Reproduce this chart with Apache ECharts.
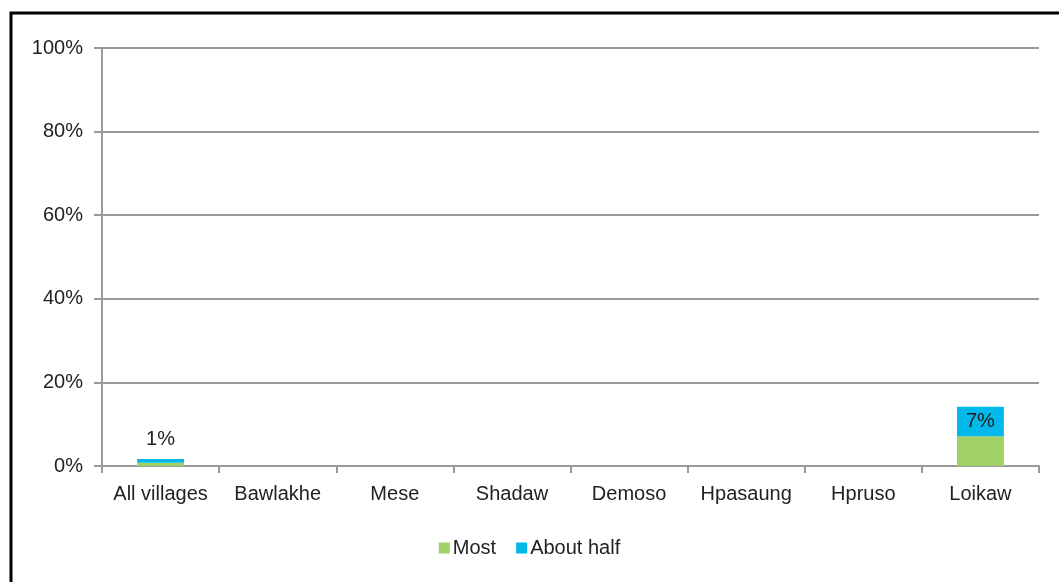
<!DOCTYPE html>
<html>
<head>
<meta charset="utf-8">
<script src="https://cdn.jsdelivr.net/npm/echarts@6/dist/echarts.min.js"></script>
<style>
  html, body { margin: 0; padding: 0; background: #fff; }
  #main { width: 1059px; height: 582px; }
</style>
</head>
<body>
<div id="main"></div>
<script>
var categories = ['All villages', 'Bawlakhe', 'Mese', 'Shadaw', 'Demoso', 'Hpasaung', 'Hpruso', 'Loikaw'];
var mostValues = [0.8, 0, 0, 0, 0, 0, 0, 7.1];
var halfValues = [0.9, 0, 0, 0, 0, 0, 0, 7.1];
var yTicks = [0, 20, 40, 60, 80, 100];

var fontFam = 'Liberation Sans, Arial, sans-serif';
var fs = 20;

// label only on the "About half" part, as in the original
var halfData = halfValues.map(function(v, i) {
    if (i === 0) {
        return { value: v, label: { show: true, position: 'top', distance: 9, formatter: '1%' } };
    }
    if (i === 7) {
        return { value: v, label: { show: true, position: 'inside', formatter: '7%' } };
    }
    return v;
});

var option = {
    animation: false,
    textStyle: { fontFamily: fontFam },
    graphic: [{
        type: 'rect',
        shape: { x: 11, y: 13, width: 1200, height: 700 },
        style: { fill: 'none', stroke: '#000', lineWidth: 3 }
    }],
    legend: {
        bottom: 19,
        left: 'center',
        itemWidth: 11,
        itemHeight: 11,
        itemGap: 20,
        icon: 'rect',
        textStyle: { fontSize: fs, color: '#222', fontFamily: fontFam, padding: [0, 0, 0, -2] },
        data: ['Most', 'About half']
    },
    grid: { left: 102, right: 20, top: 48, bottom: 116 },
    xAxis: {
        type: 'category',
        data: categories,
        axisLine: { lineStyle: { color: '#9a9a9a', width: 2 } },
        axisTick: { show: true, interval: 0, length: 7, alignWithLabel: false, lineStyle: { color: '#9a9a9a', width: 2 } },
        axisLabel: { interval: 0, fontSize: fs, color: '#222', margin: 18, fontFamily: fontFam }
    },
    yAxis: {
        type: 'value',
        min: 0,
        max: 100,
        interval: 20,
        axisLine: { show: true, lineStyle: { color: '#9a9a9a', width: 2 } },
        axisTick: { show: true, length: 8, lineStyle: { color: '#9a9a9a', width: 2 } },
        splitLine: { lineStyle: { color: '#9a9a9a', width: 2 } },
        axisLabel: {
            fontSize: fs, color: '#222', margin: 19, fontFamily: fontFam,
            formatter: function(v) { return yTicks.indexOf(v) >= 0 ? v + '%' : ''; }
        }
    },
    series: [
        {
            name: 'Most',
            type: 'bar',
            stack: 'total',
            barWidth: '40%',
            itemStyle: { color: '#a0d066' },
            data: mostValues
        },
        {
            name: 'About half',
            type: 'bar',
            stack: 'total',
            barWidth: '40%',
            itemStyle: { color: '#00b8ea' },
            label: { fontSize: fs, color: '#222', fontFamily: fontFam },
            data: halfData
        }
    ]
};

var myChart = echarts.init(document.getElementById('main'));
myChart.setOption(option);
</script>
</body>
</html>
